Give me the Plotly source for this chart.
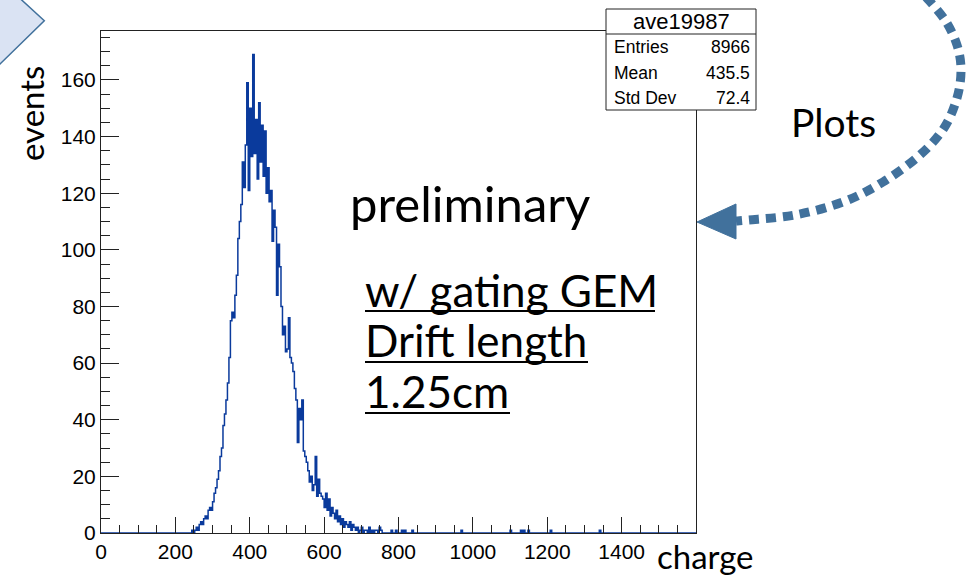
import numpy as np
import plotly.graph_objects as go

# ---------------- data ----------------
BIN_WIDTH = 4
core_start = 240
core_counts = [
    0, 1, 0, 1, 2, 1, 3, 4, 3, 5,          # 240-276
    6, 5, 8, 9, 8, 11, 14, 16, 19, 22,     # 280-316
    27, 30, 38, 42, 47, 53, 62, 75, 78, 76,  # 320-356
    84, 91, 104, 110, 116, 131, 122, 137, 159, 121,  # 360-396
    150, 133, 169, 134, 146, 125, 152, 131, 144, 126,  # 400-436
    142, 120, 129, 117, 121, 103, 114, 108, 84, 102,  # 440-476
    94, 80, 70, 73, 64, 65, 76, 62, 60, 57,  # 480-516
    51, 47, 32, 44, 40, 47, 29, 27, 25, 22,  # 520-556
    18, 20, 15, 17, 27, 13, 19, 14, 13, 12,  # 560-596
    9, 14, 8, 12, 6, 9, 7, 5, 8, 4,        # 600-636
    6, 3, 5, 2, 4, 3, 2, 4, 1, 3,          # 640-676
    2, 1, 2, 0, 1, 2, 0, 1, 1, 0,          # 680-716
    2, 0, 1, 0, 1, 1, 0, 2, 1, 0,          # 720-756
]
tail_charge = [780, 792, 808, 816, 836, 968, 1100, 1128, 1136, 1148, 1208, 1340]
tail_counts = [1, 1, 1, 1, 1, 1, 1, 1, 1, 1, 1, 1]

x_tick_vals = [0, 200, 400, 600, 800, 1000, 1200, 1400]
x_tick_text = ["0", "200", "400", "600", "800", "1000", "1200", "1400"]
y_tick_vals = [0, 20, 40, 60, 80, 100, 120, 140, 160]
y_tick_text = ["0", "20", "40", "60", "80", "100", "120", "140", "160"]

stats_title = "ave19987"
stats_names = ["Entries", "Mean", "Std Dev"]
stats_values = ["8966", "435.5", "72.4"]

# ---------------- histogram build ----------------
X_MAX = 1600
nbins = X_MAX // BIN_WIDTH
counts = np.zeros(nbins)
i0 = core_start // BIN_WIDTH
counts[i0:i0 + len(core_counts)] = core_counts
for c, n in zip(tail_charge, tail_counts):
    counts[c // BIN_WIDTH] += n
edges = np.arange(0, X_MAX + BIN_WIDTH, BIN_WIDTH)
ys = np.append(counts, counts[-1])
Y_MAX = 177.3

# ---------------- layout geometry (pixels) ----------------
W, H = 967, 577
L, R, T, B = 101, 696, 31, 533
PW, PH = R - L, B - T


def fx(px):
    return (px - L) / PW


def fy(py):
    return (B - py) / PH


def path_from(points, close=False):
    s = "M %.5f,%.5f " % (fx(points[0][0]), fy(points[0][1]))
    for p in points[1:]:
        s += "L %.5f,%.5f " % (fx(p[0]), fy(p[1]))
    if close:
        s += "Z"
    return s


def smooth_path(points):
    # Catmull-Rom to cubic bezier
    pts = [(fx(x), fy(y)) for x, y in points]
    s = "M %.5f,%.5f " % pts[0]
    for k in range(len(pts) - 1):
        p0 = pts[k - 1] if k > 0 else pts[k]
        p1 = pts[k]
        p2 = pts[k + 1]
        p3 = pts[k + 2] if k + 2 < len(pts) else pts[k + 1]
        c1 = (p1[0] + (p2[0] - p0[0]) / 6, p1[1] + (p2[1] - p0[1]) / 6)
        c2 = (p2[0] - (p3[0] - p1[0]) / 6, p2[1] - (p3[1] - p1[1]) / 6)
        s += "C %.5f,%.5f %.5f,%.5f %.5f,%.5f " % (c1 + c2 + p2)
    return s


fig = go.Figure()
fig.add_trace(go.Scatter(
    x=edges, y=ys, mode="lines", line_shape="hv",
    line=dict(color="#0a3a9c", width=1.5), hoverinfo="skip", showlegend=False,
))

axis_font = dict(family="Liberation Sans, Arial, sans-serif", size=21, color="#000")

fig.update_xaxes(
    range=[0, X_MAX], tickvals=x_tick_vals, ticktext=x_tick_text,
    ticks="inside", ticklen=16, tickwidth=1, tickcolor="#222",
    minor=dict(ticks="inside", ticklen=8, dtick=50, tickwidth=1, tickcolor="#222"),
    showline=True, linecolor="#222", linewidth=1, mirror=True,
    showgrid=False, zeroline=False, tickfont=axis_font,
)
fig.update_yaxes(
    range=[0, Y_MAX], tickvals=y_tick_vals, ticktext=y_tick_text,
    ticks="inside", ticklen=18, tickwidth=1, tickcolor="#222",
    minor=dict(ticks="inside", ticklen=9, dtick=5, tickwidth=1, tickcolor="#222"),
    showline=True, linecolor="#222", linewidth=1, mirror=True,
    showgrid=False, zeroline=False, tickfont=axis_font,
)

shapes = []
# left-top pentagon arrow
shapes.append(dict(type="path", xref="paper", yref="paper",
                   path=path_from([(-20, -10), (10.8, -10), (44.3, 20.7), (-10, 73.8), (-20, 73.8)], close=True),
                   fillcolor="#dae3f3", line=dict(color="#41719c", width=1.5), layer="above"))
# dotted curved arrow
arc = [(926, -3), (945, 20), (957, 45), (961, 70), (957, 98), (944, 128), (920, 155),
       (883, 182), (843, 202), (795, 215), (748, 220), (736, 221)]
shapes.append(dict(type="path", xref="paper", yref="paper", path=smooth_path(arc),
                   line=dict(color="#41719c", width=9, dash="10px,7px"), layer="above"))
shapes.append(dict(type="path", xref="paper", yref="paper",
                   path=path_from([(697, 222), (736, 204), (736, 239)], close=True),
                   fillcolor="#41719c", line=dict(color="#41719c", width=1), layer="above"))
# stats box
shapes.append(dict(type="rect", xref="paper", yref="paper",
                   x0=fx(606), x1=fx(756), y0=fy(9), y1=fy(110),
                   fillcolor="white", line=dict(color="#222", width=1), layer="above"))
shapes.append(dict(type="line", xref="paper", yref="paper",
                   x0=fx(606), x1=fx(756), y0=fy(34), y1=fy(34),
                   line=dict(color="#222", width=1), layer="above"))
# underlines
for x0, x1, yy in [(365, 655, 311), (365, 588, 362), (365, 510, 413)]:
    shapes.append(dict(type="line", xref="paper", yref="paper",
                       x0=fx(x0), x1=fx(x1), y0=fy(yy), y1=fy(yy),
                       line=dict(color="#000", width=2), layer="above"))

ann = []
slide_font = "Lato, Open Sans, sans-serif"


def text(t, x, y, size, xanchor="left", family=slide_font, angle=0):
    ann.append(dict(text=t, x=fx(x), y=fy(y), xref="paper", yref="paper",
                    xanchor=xanchor, yanchor="middle", showarrow=False, textangle=angle,
                    font=dict(family=family, size=size, color="#000")))


text("events", 31, 114, 33, xanchor="center", angle=-90)
text("preliminary", 348, 203, 49)
text("w/ gating GEM", 363, 290, 44)
text("Drift length", 363, 340, 44)
text("1.25cm", 363, 391, 44)
text("Plots", 789, 122, 39)
text("charge", 655, 556, 33)

arial = "Liberation Sans, Arial, sans-serif"
text(stats_title, 681, 21, 22, xanchor="center", family=arial)
for k, (nm, v) in enumerate(zip(stats_names, stats_values)):
    yy = 47 + k * 25.5
    text(nm, 612, yy, 17.5, family=arial)
    text(v, 752, yy, 17.5, xanchor="right", family=arial)

fig.update_layout(
    width=W, height=H, autosize=False,
    margin=dict(l=L, r=W - R, t=T, b=H - B, pad=0),
    plot_bgcolor="white", paper_bgcolor="white",
    shapes=shapes, annotations=ann, showlegend=False,
)

fig.write_html("out.html", config={"displayModeBar": False},
               post_script="document.body.style.margin='0px';")
